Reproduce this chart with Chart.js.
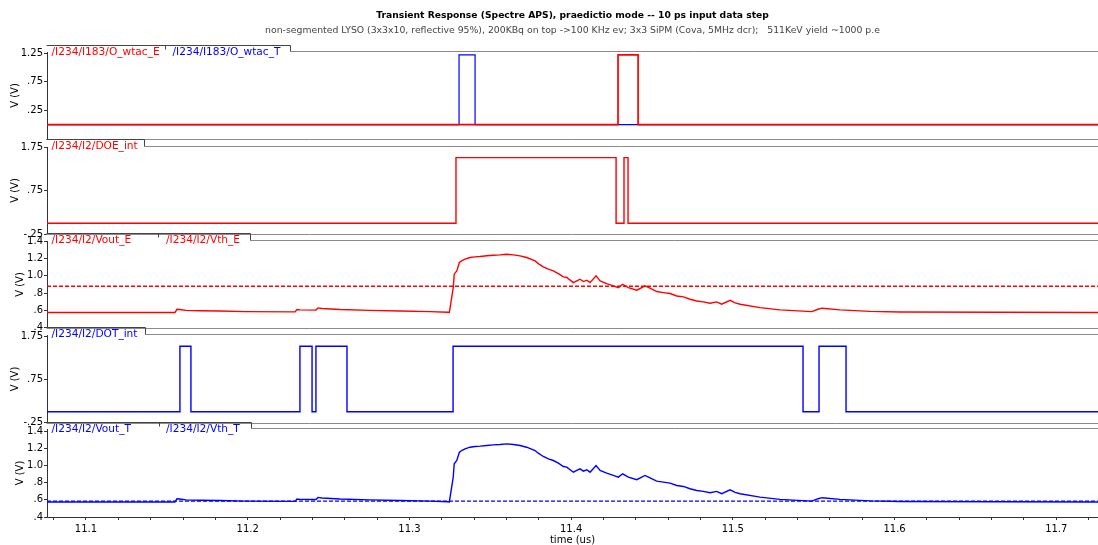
<!DOCTYPE html>
<html><head><meta charset="utf-8">
<script src="https://cdn.jsdelivr.net/npm/chart.js@4.4.1/dist/chart.umd.min.js"></script>
<style>
html,body{margin:0;padding:0;background:#fff;width:1098px;height:545px;overflow:hidden;}
.p{position:absolute;left:0;}
canvas{display:block;}
</style></head><body>
<div class="p" style="top:0px"><canvas id="k1" width="1098" height="153"></canvas></div>
<div class="p" style="top:133px"><canvas id="k2" width="1098" height="115"></canvas></div>
<div class="p" style="top:227px"><canvas id="k3" width="1098" height="115"></canvas></div>
<div class="p" style="top:321px"><canvas id="k4" width="1098" height="116"></canvas></div>
<div class="p" style="top:415px"><canvas id="k5" width="1098" height="130"></canvas></div>
<script>
// ---------------- DATA ----------------
const T_START = 11.0759, T_END = 11.7258;
const xTickValues = [11.1, 11.2, 11.3, 11.4, 11.5, 11.6, 11.7];
const xTickLabels = ['11.1', '11.2', '11.3', '11.4', '11.5', '11.6', '11.7'];

// digital signals: transition times (us) and the level after each transition (V)
const wtacE_t = [T_START, 11.4290, 11.4414];
const wtacE_v = [0.0, 1.22, 0.0];
const wtacT_t = [T_START, 11.3307, 11.3406];
const wtacT_v = [0.0, 1.22, 0.0];
const doe_t = [T_START, 11.3288, 11.4278, 11.4327, 11.4352];
const doe_v = [0.0, 1.52, 0.0, 1.52, 0.0];
const dot_t = [T_START, 11.1581, 11.1649, 11.2323, 11.2398, 11.2422, 11.2614, 11.3270, 11.5434, 11.5533, 11.5700];
const dot_v = [0.0, 1.52, 0.0, 1.52, 0.0, 1.52, 0.0, 1.52, 0.0, 1.52, 0.0];

// analog output (shaper) voltage
const vout_t = [11.0759, 11.1550, 11.1563, 11.1581, 11.1618, 11.1705, 11.1829, 11.1983, 11.2293, 11.2305,
  11.2323, 11.2422, 11.2435, 11.2459, 11.2571, 11.2756, 11.2942, 11.3127, 11.3239, 11.3247,
  11.3271, 11.3277, 11.3293, 11.3309, 11.3323, 11.3344, 11.3375, 11.3406, 11.3437, 11.3478,
  11.3519, 11.3560, 11.3602, 11.3643, 11.3684, 11.3725, 11.3777, 11.3797, 11.3828, 11.3859,
  11.3890, 11.3921, 11.3952, 11.3973, 11.4014, 11.4035, 11.4055, 11.4076, 11.4097, 11.4117,
  11.4154, 11.4179, 11.4220, 11.4261, 11.4292, 11.4319, 11.4354, 11.4406, 11.4457, 11.4488,
  11.4529, 11.4570, 11.4612, 11.4653, 11.4694, 11.4735, 11.4777, 11.4818, 11.4859, 11.4900,
  11.4931, 11.4983, 11.5014, 11.5045, 11.5168, 11.5292, 11.5488, 11.5527, 11.5552, 11.5663,
  11.5848, 11.6034, 11.7258];
const voutE_v = [0.575, 0.575, 0.612, 0.610, 0.600, 0.595, 0.592, 0.585, 0.582, 0.610,
  0.605, 0.603, 0.628, 0.622, 0.610, 0.600, 0.592, 0.585, 0.578, 0.575,
  0.864, 1.020, 1.058, 1.155, 1.174, 1.194, 1.213, 1.221, 1.225, 1.233,
  1.240, 1.244, 1.252, 1.244, 1.233, 1.213, 1.174, 1.143, 1.105, 1.078,
  1.058, 1.027, 0.988, 0.981, 0.922, 0.942, 0.961, 0.934, 0.950, 0.922,
  1.000, 0.942, 0.911, 0.884, 0.864, 0.903, 0.864, 0.834, 0.884, 0.857,
  0.818, 0.806, 0.795, 0.767, 0.756, 0.729, 0.709, 0.698, 0.682, 0.698,
  0.671, 0.717, 0.686, 0.671, 0.632, 0.605, 0.585, 0.613, 0.625, 0.605,
  0.588, 0.580, 0.575];
const voutT_v = voutE_v.slice();
const vthE = 0.88;
const vthT = 0.585;

// y-axis ticks
const p1Ticks = [1.25, 0.75, 0.25], p1Labels = ['1.25', '.75', '.25'];
const p2Ticks = [1.75, 0.75, -0.25], p2Labels = ['1.75', '.75', '-.25'];
const p3Ticks = [1.4, 1.2, 1.0, 0.8, 0.6, 0.4], p3Labels = ['1.4', '1.2', '1.0', '.8', '.6', '.4'];
const p4Ticks = [1.75, 0.75, -0.25], p4Labels = ['1.75', '.75', '-.25'];
const p5Ticks = [1.4, 1.2, 1.0, 0.8, 0.6, 0.4], p5Labels = ['1.4', '1.2', '1.0', '.8', '.6', '.4'];

// ---------------- BUILDERS ----------------
const RED = '#ff0000', BLUE = '#0000ff';
const FONT = 'DejaVu Sans';

function stepPoints(ts, vs) {
  const pts = ts.map((t, i) => ({x: t, y: vs[i]}));
  pts.push({x: T_END, y: vs[vs.length - 1]});
  return pts;
}
function curvePoints(ts, vs) { return ts.map((t, i) => ({x: t, y: vs[i]})); }
function flat(v) { return [{x: T_START, y: v}, {x: T_END, y: v}]; }

function ds(points, color, opts) {
  return Object.assign({data: points, borderColor: color, borderWidth: 1.4, pointRadius: 0,
    fill: false, tension: 0}, opts || {});
}

function yScale(min, max, ticks, labels, titlePad) {
  return {
    type: 'linear', position: 'left', min: min, max: max,
    afterBuildTicks: s => { s.ticks = ticks.map(v => ({value: v})); },
    afterFit: s => { s.width = 47; s.paddingTop = 0; s.paddingBottom = 0; },
    ticks: {
      autoSkip: false, padding: 1, color: '#000', font: {family: FONT, size: 10},
      callback: v => { const i = ticks.findIndex(t => Math.abs(t - v) < 1e-9); return i >= 0 ? labels[i] : ''; }
    },
    grid: {drawOnChartArea: false, drawTicks: true, tickLength: 3, tickColor: '#333'},
    border: {display: true, color: '#333', width: 1},
    title: {display: true, text: 'V (V)', color: '#000', font: {family: FONT, size: 10}, padding: {top: titlePad, bottom: 0}}
  };
}

function xScale(show) {
  return {
    type: 'linear', position: 'bottom', min: T_START, max: T_END, display: show,
    afterBuildTicks: s => {
      const arr = [];
      for (let k = Math.ceil(T_START / 0.02 - 1e-9); k * 0.02 <= T_END + 1e-9; k++) arr.push({value: +(k * 0.02).toFixed(2)});
      s.ticks = arr;
    },
    afterFit: s => { s.height = show ? 28 : 0; s.paddingLeft = 0; s.paddingRight = 0; },
    ticks: {
      autoSkip: false, maxRotation: 0, padding: 3, color: '#000', font: {family: FONT, size: 10},
      callback: v => { const i = xTickValues.findIndex(t => Math.abs(t - v) < 1e-6); return i >= 0 ? xTickLabels[i] : ''; }
    },
    grid: {drawOnChartArea: false, drawTicks: true, tickLength: 3, tickColor: '#333'},
    border: {display: true, color: '#333', width: 1},
    title: {display: true, text: 'time (us)', color: '#000', font: {family: FONT, size: 10}, padding: {top: 0, bottom: -1}}
  };
}

const decor = {
  id: 'decor',
  afterDraw(chart, args, o) {
    const {ctx, chartArea: a} = chart;
    const top = Math.round(a.top) - 0.5;
    const bot = Math.round(a.bottom) + 0.5;
    const tabTop = Math.round(a.top - o.tabH) - 0.5;
    const L = Math.round(a.left) - 0.5, R = a.right;
    ctx.save();
    ctx.lineWidth = 1;
    ctx.strokeStyle = '#8a8a8a';
    ctx.beginPath();
    ctx.moveTo(o.tabRight, top); ctx.lineTo(R, top);
    if (!o.last) { ctx.moveTo(L, bot); ctx.lineTo(R, bot); }
    ctx.stroke();
    ctx.strokeStyle = '#444';
    ctx.beginPath();
    ctx.moveTo(L, tabTop); ctx.lineTo(o.tabRight, tabTop); ctx.lineTo(o.tabRight, top);
    (o.seps || []).forEach(x => { ctx.moveTo(x, tabTop); ctx.lineTo(x, tabTop + 4); });
    ctx.stroke();
    ctx.font = '10.6px "' + FONT + '"';
    ctx.textBaseline = 'alphabetic';
    ctx.textAlign = 'left';
    o.labels.forEach(l => { ctx.fillStyle = l.color; ctx.fillText(l.text, l.x, tabTop + 9); });
    ctx.restore();
  }
};

function makeChart(id, datasets, yCfg, decorCfg, extra) {
  const showX = !!(extra && extra.showX);
  const plugins = {legend: {display: false}, tooltip: {enabled: false}, decor: decorCfg};
  if (extra && extra.title) {
    plugins.title = {display: true, fullSize: false, text: extra.title, color: '#000',
      font: {family: FONT, size: 9.2, weight: 'bold'}, padding: {top: 10.2, bottom: 3}};
    plugins.subtitle = {display: true, fullSize: false, text: extra.subtitle, color: '#444',
      font: {family: FONT, size: 9.3}, padding: {top: 1.2, bottom: 15.4}};
  }
  return new Chart(document.getElementById(id), {
    type: 'line',
    data: {datasets: datasets},
    plugins: [decor],
    options: {
      responsive: false, animation: false, events: [],
      layout: {padding: extra && extra.padding ? extra.padding : {top: 14, bottom: 14, left: 0, right: 0}},
      scales: {x: xScale(showX), y: yCfg},
      plugins: plugins
    }
  });
}

// Panel 1
makeChart('k1', [
  ds(stepPoints(wtacE_t, wtacE_v), RED, {stepped: true, borderWidth: 1.7}),
  ds(stepPoints(wtacT_t, wtacT_v), BLUE, {stepped: true, borderWidth: 1.2})
], yScale(-0.25, 1.27, p1Ticks, p1Labels, 9.5),
{tabH: 6.5, tabRight: 290.5, seps: [165.5], labels: [
  {text: '/I234/I183/O_wtac_E', color: RED, x: 51.5},
  {text: '/I234/I183/O_wtac_T', color: BLUE, x: 172.5}]},
{padding: {top: 0, bottom: 14, left: 0, right: 0},
 title: 'Transient Response (Spectre APS), praedictio mode -- 10 ps input data step',
 subtitle: 'non-segmented LYSO (3x3x10, reflective 95%), 200KBq on top ->100 KHz ev; 3x3 SiPM (Cova, 5MHz dcr);   511KeV yield ~1000 p.e'});

// Panel 2
makeChart('k2', [
  ds(stepPoints(doe_t, doe_v), RED, {stepped: true})
], yScale(-0.25, 1.765, p2Ticks, p2Labels, 9.5),
{tabH: 7.5, tabRight: 144.5, labels: [{text: '/I234/I2/DOE_int', color: RED, x: 51.5}]});

// Panel 3
makeChart('k3', [
  ds(curvePoints(vout_t, voutE_v), RED),
  ds(flat(vthE), RED, {borderDash: [4, 2]})
], yScale(0.395, 1.405, p3Ticks, p3Labels, 14.5),
{tabH: 7, tabRight: 250.5, seps: [158.5], labels: [
  {text: '/I234/I2/Vout_E', color: RED, x: 51.5},
  {text: '/I234/I2/Vth_E', color: RED, x: 166}]});

// Panel 4
makeChart('k4', [
  ds(stepPoints(dot_t, dot_v), BLUE, {stepped: true})
], yScale(-0.26, 1.78, p4Ticks, p4Labels, 9.5),
{tabH: 7, tabRight: 145.5, labels: [{text: '/I234/I2/DOT_int', color: BLUE, x: 51.5}]});

// Panel 5
makeChart('k5', [
  ds(flat(vthT), BLUE, {borderDash: [4, 2]}),
  ds(curvePoints(vout_t, voutT_v), BLUE)
], yScale(0.4, 1.425, p5Ticks, p5Labels, 14.5),
{tabH: 6.5, tabRight: 251.5, seps: [159.5], last: true, labels: [
  {text: '/I234/I2/Vout_T', color: BLUE, x: 51.5},
  {text: '/I234/I2/Vth_T', color: BLUE, x: 166}]},
{showX: true, padding: {top: 14, bottom: 0, left: 0, right: 0}});
</script>
</body></html>
